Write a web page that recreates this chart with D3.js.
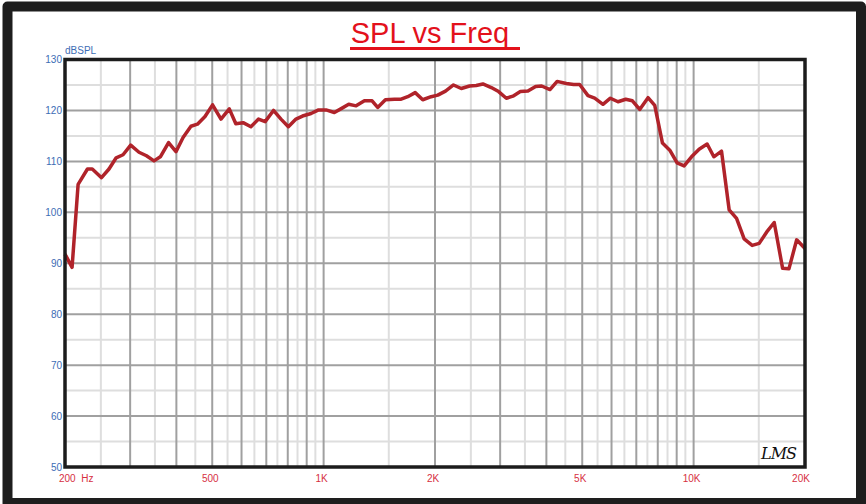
<!DOCTYPE html>
<html>
<head>
<meta charset="utf-8">
<script src="https://cdn.jsdelivr.net/npm/d3@7"></script>
<style>
  html, body { margin: 0; padding: 0; background: #ffffff; }
  svg { display: block; font-family: "Liberation Sans", Arial, sans-serif; }
</style>
</head>
<body>
<svg id="chart" width="866" height="504"></svg>
<script>
// ---- data ----
const title = "SPL vs Freq";
const yLabel = "dBSPL";
const freqs = [200, 209, 217, 230, 237, 251, 263, 275, 287, 301,
  317, 332, 348, 362, 381, 399, 417, 438, 456, 478,
  501, 528, 556, 579, 606, 636, 667, 695, 732, 767,
  803, 842, 877, 925, 969, 1015, 1069, 1119, 1169, 1224,
  1289, 1352, 1400, 1469, 1554, 1620, 1688, 1768, 1853, 1953,
  2035, 2135, 2244, 2355, 2480, 2585, 2694, 2839, 2971, 3117,
  3248, 3401, 3566, 3741, 3884, 4090, 4277, 4529, 4740, 4921,
  5182, 5403, 5689, 5957, 6246, 6553, 6832, 7150, 7530, 7851,
  8238, 8622, 9023, 9425, 9870, 10348, 10877, 11341, 11897, 12474,
  13063, 13696, 14397, 15039, 15748, 16512, 17400, 18097, 18993, 20000];
const spl = [91.8, 89.2, 105.5, 108.5, 108.5, 106.8, 108.5, 110.7, 111.3, 113.2,
  111.8, 111.1, 110.1, 110.9, 113.7, 111.9, 114.7, 116.9, 117.3, 118.8,
  121.1, 118.3, 120.3, 117.4, 117.6, 116.8, 118.3, 117.8, 120.0, 118.3,
  116.8, 118.3, 118.9, 119.4, 120.1, 120.1, 119.6, 120.4, 121.2, 120.9,
  121.9, 121.9, 120.6, 122.1, 122.2, 122.2, 122.7, 123.5, 122.1, 122.7,
  123.0, 123.8, 125.0, 124.3, 124.8, 124.9, 125.2, 124.5, 123.7, 122.4,
  122.8, 123.7, 123.8, 124.7, 124.8, 124.1, 125.7, 125.3, 125.1, 125.1,
  122.9, 122.4, 121.2, 122.4, 121.7, 122.2, 121.9, 120.2, 122.5, 121.0,
  113.6, 112.2, 109.7, 109.1, 110.9, 112.4, 113.4, 110.9, 112.0, 100.5,
  98.8, 94.8, 93.5, 93.9, 96.1, 98.0, 89.0, 88.9, 94.6, 92.9];
const yTicks = [50, 60, 70, 80, 90, 100, 110, 120, 130];
const yMinorTicks = [55, 65, 75, 85, 95, 105, 115, 125];
const xMajorGrid = [300, 400, 500, 600, 700, 800, 900, 1000,
  2000, 3000, 4000, 5000, 6000, 7000, 8000, 9000, 10000];
const xMinorGrid = [250, 350, 450, 550, 650, 750, 850, 950,
  1500, 2500, 3500, 4500, 5500, 6500, 7500, 8500, 9500, 15000];
const xTickValues = [500, 1000, 2000, 5000, 10000, 20000];
const xTickLabels = ["500", "1K", "2K", "5K", "10K", "20K"];

// ---- layout ----
const svg = d3.select("#chart");
const L = 65, R = 805, T = 59.5, B = 467;
const x = d3.scaleLog().domain([200, 20000]).range([L, R]);
const y = d3.scaleLinear().domain([50, 130]).range([B, T]);

// outer frame
svg.append("rect").attr("x", 0).attr("y", 0).attr("width", 866).attr("height", 504).attr("fill", "#ffffff");
svg.append("rect")
  .attr("x", 7.5).attr("y", 6.5).attr("width", 853.5).attr("height", 496.5)
  .attr("fill", "none").attr("stroke", "#1e1e1e").attr("stroke-width", 10)
  .attr("stroke-linejoin", "round");

// title
svg.append("text")
  .attr("x", 430).attr("y", 43)
  .attr("text-anchor", "middle")
  .attr("font-size", 29)
  .attr("fill", "#e3111b")
  .text(title);
svg.append("line")
  .attr("x1", 350).attr("x2", 520).attr("y1", 48.5).attr("y2", 48.5)
  .attr("stroke", "#e3111b").attr("stroke-width", 3);

// grid
const g = svg.append("g");
g.selectAll("line.hmin").data(yMinorTicks).enter().append("line")
  .attr("x1", L).attr("x2", R).attr("y1", d => y(d)).attr("y2", d => y(d))
  .attr("stroke", "#dedede").attr("stroke-width", 2);
g.selectAll("line.vmin").data(xMinorGrid).enter().append("line")
  .attr("x1", d => x(d)).attr("x2", d => x(d)).attr("y1", T).attr("y2", B)
  .attr("stroke", "#dedede").attr("stroke-width", 2);
g.selectAll("line.hmaj").data(yTicks.filter(d => d > 50 && d < 130)).enter().append("line")
  .attr("x1", L).attr("x2", R).attr("y1", d => y(d)).attr("y2", d => y(d))
  .attr("stroke", "#a0a0a0").attr("stroke-width", 2);
g.selectAll("line.vmaj").data(xMajorGrid).enter().append("line")
  .attr("x1", d => x(d)).attr("x2", d => x(d)).attr("y1", T).attr("y2", B)
  .attr("stroke", "#a0a0a0").attr("stroke-width", 2);

// curve
const line = d3.line().x((d, i) => x(freqs[i])).y(d => y(d));
svg.append("path").datum(spl)
  .attr("d", line)
  .attr("fill", "none").attr("stroke", "#b0232a").attr("stroke-width", 3.5)
  .attr("stroke-linejoin", "round");

// plot frame
svg.append("rect")
  .attr("x", L).attr("y", T).attr("width", R - L).attr("height", B - T)
  .attr("fill", "none").attr("stroke", "#1c1c1c").attr("stroke-width", 3.5);

// y labels
svg.selectAll("text.yt").data(yTicks).enter().append("text")
  .attr("x", 62).attr("y", d => y(d) + 3.5)
  .attr("text-anchor", "end").attr("font-size", 10).attr("fill", "#3d6db5")
  .text(d => d);
svg.append("text").attr("x", 65).attr("y", 54)
  .attr("font-size", 10).attr("fill", "#3d6db5").text(yLabel);

// x labels
svg.append("text").attr("x", 59).attr("y", 482)
  .attr("font-size", 10).attr("fill", "#d6303f")
  .attr("xml:space", "preserve").text("200  Hz");
svg.selectAll("text.xt").data(xTickValues).enter().append("text")
  .attr("x", (d, i) => x(d) - (i === xTickValues.length - 1 ? 4 : 2)).attr("y", 482)
  .attr("text-anchor", "middle").attr("font-size", 10).attr("fill", "#d6303f")
  .text((d, i) => xTickLabels[i]);

// LMS logo
svg.append("text").attr("x", 761).attr("y", 459)
  .attr("font-size", 16).attr("font-style", "italic")
  .attr("font-family", "DejaVu Serif, serif")
  .attr("letter-spacing", -1)
  .attr("fill", "#111").text("LMS");
</script>
</body>
</html>
